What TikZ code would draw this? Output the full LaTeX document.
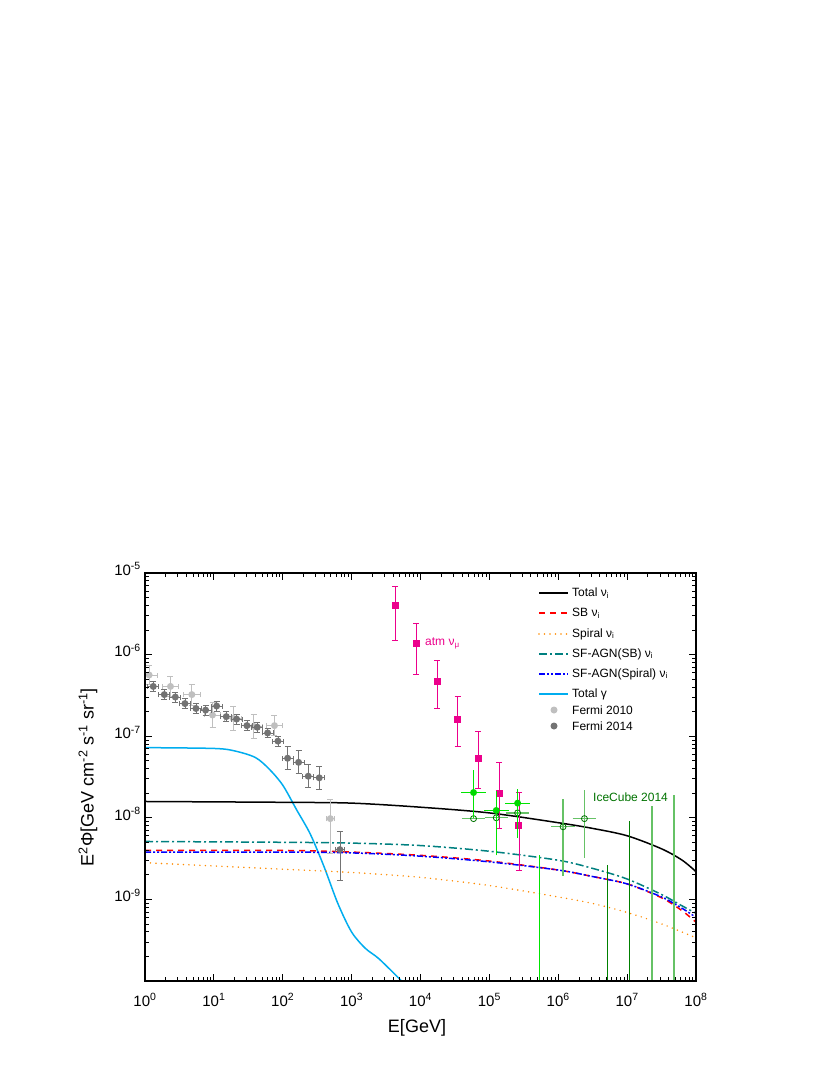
\documentclass[tikz,border=0pt]{standalone}
\usepackage{fontspec}
\setmainfont{Liberation Sans}
\begin{document}
\begin{tikzpicture}[x=1pt,y=-1pt,
  lab/.style={font=\fontsize{15}{15}\selectfont,inner sep=1pt},
  leg/.style={font=\fontsize{12}{12}\selectfont,anchor=west,inner sep=0pt},
  tot/.style={black,line width=1.5pt},
  sb/.style={red,line width=1.5pt,dash pattern=on 6pt off 5pt},
  sp/.style={orange!90!yellow,line width=1.6pt,line cap=round,dash pattern=on 0pt off 5.5pt},
  asb/.style={teal,line width=1.5pt,dash pattern=on 8pt off 3pt on 2pt off 3pt},
  asp/.style={blue,line width=1.5pt,dash pattern=on 6pt off 2pt on 2pt off 2pt on 2pt off 2pt},
  gam/.style={cyan,line width=1.5pt},
  fa/.style={black!25,line width=0.8pt},
  fb/.style={black!55,line width=0.8pt},
  mg/.style={magenta,line width=0.9pt},
  gb/.style={green!90!black,line width=0.9pt},
  gd/.style={green!50!black,line width=0.9pt},
  gl/.style={green!60!black!60,line width=1.2pt}]
\useasboundingbox (0,0) rectangle (830,1075);
\fill[white] (0,0) rectangle (830,1075);
\newcommand\mybar[6]{% style, x, y, ylo, yhi, xerr
  \draw[#1] (#2,#4) ++(-3pt,0) -- ++(6pt,0) (#2,#4) -- (#2,#5) ++(-3pt,0) -- ++(6pt,0);
  \draw[#1] (#2-#6,#3) -- (#2+#6,#3) (#2-#6,#3) ++(0,-2.5pt) -- ++(0,5pt) (#2+#6,#3) ++(0,-2.5pt) -- ++(0,5pt);}
\begin{scope}[shift={(145,981)},x=68.875pt,y=81.6pt]
\clip (0,0) rectangle (8,5);
\draw[gam] plot[smooth] coordinates {(0,2.86)(1,2.85)(1.3,2.82)(1.6,2.74)(1.8,2.6)(2,2.4)(2.2,2.1)(2.4,1.8)(2.6,1.4)(2.8,0.95)(3.0,0.6)(3.2,0.4)(3.4,0.27)(3.75,-0.02)};
\draw[tot] plot[smooth] coordinates {(0,2.2)(2,2.19)(3,2.18)(4,2.13)(5,2.06)(6,1.94)(6.5,1.87)(7,1.78)(7.5,1.62)(7.8,1.48)(8,1.34)};
\draw[asb] plot[smooth] coordinates {(0,1.71)(2,1.70)(3,1.69)(4,1.66)(5,1.59)(6,1.48)(6.5,1.38)(7,1.25)(7.5,1.06)(7.8,0.92)(8,0.83)};
\draw[sb] plot[smooth] coordinates {(0,1.6)(2,1.6)(3,1.58)(4,1.54)(5,1.47)(6,1.36)(6.5,1.28)(7,1.19)(7.5,1.02)(7.8,0.86)(8,0.72)};
\draw[asp] plot[smooth] coordinates {(0,1.58)(2,1.58)(3,1.57)(4,1.53)(5,1.46)(6,1.36)(6.5,1.28)(7,1.19)(7.5,1.03)(7.8,0.89)(8,0.78)};
\draw[sp] plot[smooth] coordinates {(0,1.45)(1,1.41)(2,1.37)(3,1.33)(4,1.27)(5,1.17)(6,1.03)(6.5,0.95)(7,0.84)(7.5,0.70)(8,0.53)};
% Fermi 2010
\foreach \x/\y/\e in {0.06/3.75/0.12,0.37/3.61/0.12,0.68/3.51/0.13,0.98/3.26/0.15,1.28/3.22/0.15,1.58/3.12/0.15,1.88/3.13/0.12}{
  \mybar{fa}{\x}{\y}{\y-\e}{\y+\e}{0.12}\fill[black!25] (\x,\y) circle (3.5pt);}
\mybar{fa}{2.69}{1.99}{1.56}{2.23}{0.06}\fill[black!25] (2.69,1.99) circle (3.5pt);
% Fermi 2014
\foreach \x/\y in {0.12/3.61,0.28/3.51,0.44/3.48,0.58/3.40,0.74/3.34,0.88/3.32,1.04/3.37,1.18/3.24,1.33/3.21,1.48/3.13,1.63/3.11,1.78/3.04,1.93/2.94}{
  \mybar{fb}{\x}{\y}{\y-0.06}{\y+0.06}{0.08}\fill[black!55] (\x,\y) circle (3.5pt);}
\foreach \x/\y in {2.07/2.73,2.23/2.68,2.37/2.51,2.53/2.49}{
  \mybar{fb}{\x}{\y}{\y-0.14}{\y+0.14}{0.08}\fill[black!55] (\x,\y) circle (3.5pt);}
\mybar{fb}{2.83}{1.61}{1.23}{1.83}{0.06}\fill[black!55] (2.83,1.61) circle (3.5pt);
% atm numu
\foreach \x/\y/\lo/\hi in {3.63/4.60/4.17/4.83,3.94/4.14/3.76/4.38,4.24/3.67/3.34/3.93,4.54/3.21/2.87/3.49,4.84/2.73/2.36/3.06,5.14/2.30/1.87/2.68,5.43/1.90/1.36/2.31}{
  \draw[mg] (\x,\lo) ++(-3pt,0) -- ++(6pt,0) (\x,\lo) -- (\x,\hi) ++(-3pt,0) -- ++(6pt,0);
  \fill[magenta] (\x,\y) ++(-3.5pt,-3.5pt) rectangle ++(7pt,7pt);}
% IceCube
\draw[gb] (5.73,0) -- (5.73,1.54);
\draw[gd] (6.72,0) -- (6.72,1.42) (7.03,0) -- (7.03,1.96);
\draw[gl] (7.36,0) -- (7.36,2.14) (7.68,0) -- (7.68,2.28);
\foreach \x/\y/\lo/\hi in {4.77/1.99/1.99/1.99,5.1/2.0/2.0/2.0,5.41/2.06/2.06/2.06,6.07/1.89/1.29/2.23,6.38/1.99/1.51/2.34}{
  \draw[gl] (\x-0.17,\y) -- (\x+0.17,\y) (\x,\lo) -- (\x,\hi);
  \draw[green!45!black,line width=0.8pt] (\x,\y) circle (3pt);}
\foreach \x/\y/\lo/\hi in {4.77/2.31/2.0/2.58,5.1/2.09/1.54/2.33,5.41/2.18/1.75/2.35}{
  \draw[gb] (\x-0.18,\y) -- (\x+0.18,\y) (\x,\lo) -- (\x,\hi);
  \fill[green!85!black] (\x,\y) circle (3.5pt);}
\end{scope}
\node[font=\fontsize{12}{12}\selectfont,magenta,anchor=west,inner sep=0pt] (atm) at (425,643) {atm ν\textsubscript{μ}};
\node[font=\fontsize{12}{12}\selectfont,green!45!black,anchor=west,inner sep=0pt] (ic) at (593,797) {IceCube 2014};
% frame and ticks
\draw[line width=1.8pt] (145,573) rectangle (696,981);
\foreach \d in {0,...,8}{
  \pgfmathsetmacro\xx{145+68.875*\d}
  \draw[line width=1pt] (\xx,981) -- ++(0,-7) (\xx,573) -- ++(0,7);
  \node[lab] (xl\d) at (\xx,1000) {10\textsuperscript{\d}};}
\foreach \d in {0,...,7}{\foreach \m in {0.301,0.477,0.602,0.699,0.778,0.845,0.903,0.954}{
  \pgfmathsetmacro\xx{145+68.875*(\d+\m)}
  \draw[line width=0.9pt] (\xx,981) -- ++(0,-4) (\xx,573) -- ++(0,4);}}
\foreach \d in {0,...,5}{
  \pgfmathsetmacro\yy{981-81.6*\d}
  \draw[line width=1pt] (145,\yy) -- ++(7,0) (696,\yy) -- ++(-7,0);}
\foreach \d in {0,...,4}{\foreach \m in {0.301,0.477,0.602,0.699,0.778,0.845,0.903,0.954}{
  \pgfmathsetmacro\yy{981-81.6*(\d+\m)}
  \draw[line width=0.9pt] (145,\yy) -- ++(4,0) (696,\yy) -- ++(-4,0);}}
\foreach \e/\d in {-5/5,-6/4,-7/3,-8/2,-9/1}{
  \pgfmathsetmacro\yy{981-81.6*\d}
  \node[lab,anchor=east] (yl\d) at (142,\yy-4) {10\textsuperscript{\e}};}
\node[font=\fontsize{18}{18}\selectfont] (xt) at (417,1028) {E[GeV]};
\node[font=\fontsize{18}{18}\selectfont,rotate=90] (yt) at (88,777) {E\textsuperscript{2}Φ[GeV cm\textsuperscript{-2} s\textsuperscript{-1} sr\textsuperscript{-1}]};
% legend
\foreach \s/\t/\y in {tot/Total ν\textsubscript{i}/593,sb/SB ν\textsubscript{i}/613,sp/Spiral ν\textsubscript{i}/634,asb/SF-AGN(SB) ν\textsubscript{i}/654,asp/SF-AGN(Spiral) ν\textsubscript{i}/674,gam/Total γ/694}{
  \draw[\s] (539,\y) -- (568,\y);
  \node[leg] at (572,\y) {\t};}
\fill[black!25] (554,710) circle (3.5pt);
\node[leg] (l7) at (572,710) {Fermi 2010};
\fill[black!55] (554,726) circle (3.5pt);
\node[leg] (l8) at (572,726) {Fermi 2014};
\end{tikzpicture}
\end{document}
